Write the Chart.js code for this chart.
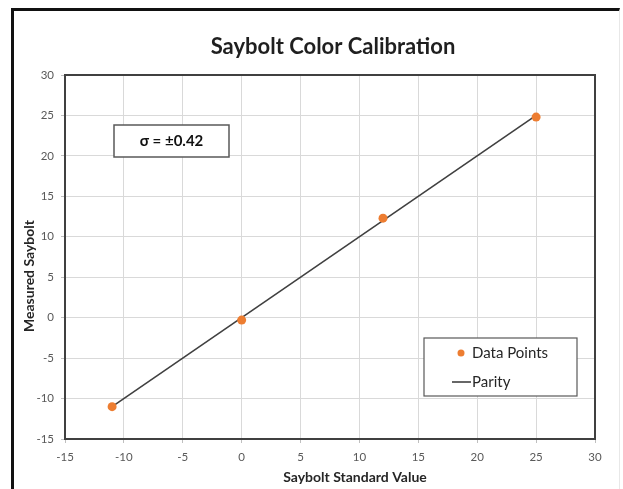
<!DOCTYPE html>
<html>
<head>
<meta charset="utf-8">
<script src="https://cdn.jsdelivr.net/npm/chart.js@4.4.1/dist/chart.umd.min.js"></script>
<style>
  html, body { margin: 0; padding: 0; background: #fff; }
  #wrap { position: relative; width: 623px; height: 489px; }
  #frame { position: absolute; left: 11px; top: 8px; right: 3px; bottom: -4px;
           border-left: 3px solid #111; border-top: 3px solid #111; border-right: 1px solid #e8e8e8; }
  canvas { position: absolute; left: 0; top: 0; }
</style>
</head>
<body>
<div id="wrap">
  <div id="frame"></div>
  <canvas id="chart" width="623" height="489"></canvas>
</div>
<script>
// chart data
const titleText = 'Saybolt Color Calibration';
const xAxisTitle = 'Saybolt Standard Value';
const yAxisTitle = 'Measured Saybolt';
const sigmaText = 'σ = ±0.42';

const standardValues = [-11, 0, 12, 25];
const measuredValues = [-11.0, -0.3, 12.3, 24.8];
const parityX = [-11, 25];
const parityY = [-11, 25];

const xTicks = [-15, -10, -5, 0, 5, 10, 15, 20, 25, 30];
const yTicks = [-15, -10, -5, 0, 5, 10, 15, 20, 25, 30];

const ORANGE = '#ED7D31';
const DARK = '#404040';
const FONT = 'Lato, "Open Sans", sans-serif';

function pts(xs, ys){ return xs.map((x,i)=>({x:x, y:ys[i]})); }

// title, axis titles, plot frame, sigma box and legend
const decorPlugin = {
  id: 'decor',
  afterDraw(chart){
    const ctx = chart.ctx;
    const a = chart.chartArea;
    ctx.save();
    // plot frame
    ctx.strokeStyle = DARK;
    ctx.lineWidth = 2;
    ctx.strokeRect(a.left, a.top, a.right - a.left, a.bottom - a.top);

    // chart title
    ctx.fillStyle = '#1f1f1f';
    ctx.font = 'bold 22px ' + FONT;
    ctx.textAlign = 'center';
    ctx.textBaseline = 'middle';
    ctx.fillText(titleText, 333, 47);

    // axis titles
    ctx.font = 'bold 14px ' + FONT;
    ctx.fillStyle = '#262626';
    ctx.fillText(xAxisTitle, 355, 477);
    ctx.save();
    ctx.translate(29, 276);
    ctx.rotate(-Math.PI / 2);
    ctx.fillText(yAxisTitle, 0, 0);
    ctx.restore();

    // sigma box
    ctx.fillStyle = '#fff';
    ctx.fillRect(114, 125, 115, 32);
    ctx.strokeStyle = '#595959';
    ctx.lineWidth = 1.5;
    ctx.strokeRect(114, 125, 115, 32);
    ctx.fillStyle = '#111';
    ctx.font = 'bold 15px ' + FONT;
    ctx.fillText(sigmaText, 171.5, 141.5);

    // legend
    const ds = chart.data.datasets;
    ctx.fillStyle = '#fff';
    ctx.fillRect(424, 338, 153, 58);
    ctx.strokeStyle = '#595959';
    ctx.lineWidth = 1.2;
    ctx.strokeRect(424, 338, 153, 58);
    ctx.font = '15px ' + FONT;
    ctx.textAlign = 'left';
    ctx.fillStyle = ds[0].backgroundColor;
    ctx.beginPath();
    ctx.arc(461, 353, 3.5, 0, Math.PI * 2);
    ctx.fill();
    ctx.fillStyle = '#262626';
    ctx.fillText(ds[0].label, 472, 353);
    ctx.strokeStyle = ds[1].borderColor;
    ctx.lineWidth = 1.6;
    ctx.beginPath();
    ctx.moveTo(452, 382);
    ctx.lineTo(471, 382);
    ctx.stroke();
    ctx.fillText(ds[1].label, 472, 382);
    ctx.restore();
  }
};

const tickFont = { family: FONT, size: 11.5 };

new Chart(document.getElementById('chart').getContext('2d'), {
  type: 'scatter',
  data: {
    datasets: [
      {
        label: 'Data Points',
        data: pts(standardValues, measuredValues),
        backgroundColor: ORANGE,
        borderColor: ORANGE,
        pointRadius: 4.5,
        pointBorderWidth: 0,
        order: 0
      },
      {
        label: 'Parity',
        type: 'line',
        data: pts(parityX, parityY),
        borderColor: DARK,
        borderWidth: 1.6,
        pointRadius: 0,
        fill: false,
        order: 1
      }
    ]
  },
  options: {
    responsive: false,
    animation: false,
    layout: { padding: { left: 0, top: 75, right: 28, bottom: 0 } },
    plugins: { legend: { display: false }, tooltip: { enabled: false } },
    scales: {
      x: {
        type: 'linear',
        min: xTicks[0], max: xTicks[xTicks.length - 1],
        afterBuildTicks: s => { s.ticks = xTicks.map(v => ({ value: v })); },
        afterFit: s => { s.height = 50; },
        grid: { color: '#d9d9d9', lineWidth: 1, drawTicks: true, tickLength: 4, tickColor: '#bfbfbf' },
        border: { display: false },
        ticks: { font: tickFont, color: '#595959', padding: 7 }
      },
      y: {
        type: 'linear',
        min: yTicks[0], max: yTicks[yTicks.length - 1],
        afterBuildTicks: s => { s.ticks = yTicks.map(v => ({ value: v })); },
        afterFit: s => { s.width = 65; },
        grid: { color: '#d9d9d9', lineWidth: 1, drawTicks: true, tickLength: 4, tickColor: '#bfbfbf' },
        border: { display: false },
        ticks: { font: tickFont, color: '#595959', padding: 7 }
      }
    }
  },
  plugins: [decorPlugin]
});
</script>
</body>
</html>
